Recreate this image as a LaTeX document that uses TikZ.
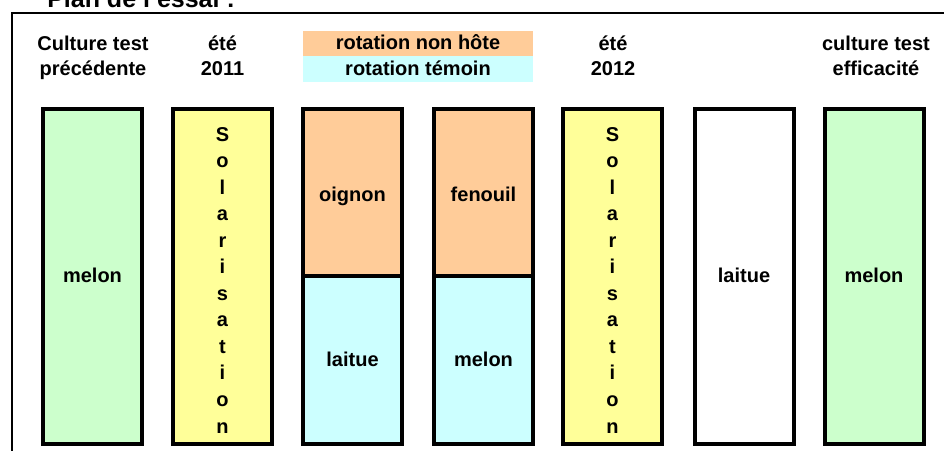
\documentclass[tikz,border=0pt]{standalone}
\usepackage{fontspec}
\setmainfont{Liberation Sans}
\definecolor{cgreen}{HTML}{CCFFCC}
\definecolor{cyellow}{HTML}{FFFF99}
\definecolor{corange}{HTML}{FFCC99}
\definecolor{ccyan}{HTML}{CCFFFF}
\begin{document}
\begin{tikzpicture}[x=0.75pt,y=-0.75pt,
  txt/.style={font=\bfseries\fontsize{15pt}{18pt}\selectfont, inner sep=0pt, anchor=base},
  colbox/.style={draw=black, line width=3pt, minimum width=74.25pt, inner sep=0pt},
  fullcol/.style={colbox, minimum height=251.25pt},
  topcol/.style={colbox, minimum height=125.25pt},
  botcol/.style={colbox, minimum height=126pt},
  legbox/.style={inner sep=0pt, minimum width=172.5pt, minimum height=19.5pt}
  ]
\useasboundingbox (0,0) rectangle (944,450);
% frame
\coordinate (ftr) at (960,13);
\coordinate (ftl) at (12,13);
\coordinate (fbl) at (12,470);
\draw[line width=1.5pt] (ftr) -- (ftl) -- (fbl);
% title
\node[font=\bfseries\fontsize{18.75pt}{22pt}\selectfont, anchor=base west, inner sep=0pt] (title) at (47,7) {Plan de l'essai :};
% headers
\node[txt] (h1a) at (93,50) {Culture test};
\node[txt] (h1b) at (93,75) {précédente};
\node[txt] (h2a) at (222.5,50) {été};
\node[txt] (h2b) at (222.5,75) {2011};
\node[txt] (h5a) at (613,50) {été};
\node[txt] (h5b) at (613,75) {2012};
\node[txt] (h7a) at (876,50) {culture test};
\node[txt] (h7b) at (876,75) {efficacité};
% legend
\node[legbox, fill=corange] (legA) at (418,43.5) {};
\node[legbox, fill=ccyan] (legB) at (418,69) {};
\node[txt] (legAt) at (418,49) {rotation non hôte};
\node[txt] (legBt) at (418,75) {rotation témoin};
% columns
\node[fullcol, fill=cgreen] (c1) at (92.5,276.5) {};
\node[fullcol, fill=cyellow] (c2) at (222.5,276.5) {};
\node[topcol, fill=corange] (c3t) at (352.5,192.5) {};
\node[botcol, fill=ccyan] (c3b) at (352.5,360) {};
\node[topcol, fill=corange] (c4t) at (483.5,192.5) {};
\node[botcol, fill=ccyan] (c4b) at (483.5,360) {};
\node[fullcol, fill=cyellow] (c5) at (612.5,276.5) {};
\node[fullcol, fill=white] (c6) at (744,276.5) {};
\node[fullcol, fill=cgreen] (c7) at (874,276.5) {};
% column texts
\node[txt] (t1) at (92.5,282) {melon};
\node[txt] (t3t) at (352.5,201.5) {oignon};
\node[txt] (t3b) at (352.5,366.5) {laitue};
\node[txt] (t4t) at (483.5,201.5) {fenouil};
\node[txt] (t4b) at (483.5,366.5) {melon};
\node[txt] (t6) at (744,282) {laitue};
\node[txt] (t7) at (874,282) {melon};
\foreach \L [count=\i from 0] in {S,o,l,a,r,i,s,a,t,i,o,n} {
  \node[txt] (sa\i) at (222.5,{141+26.55*\i}) {\L};
  \node[txt] (sb\i) at (612.5,{141+26.55*\i}) {\L};
}
\end{tikzpicture}
\end{document}
